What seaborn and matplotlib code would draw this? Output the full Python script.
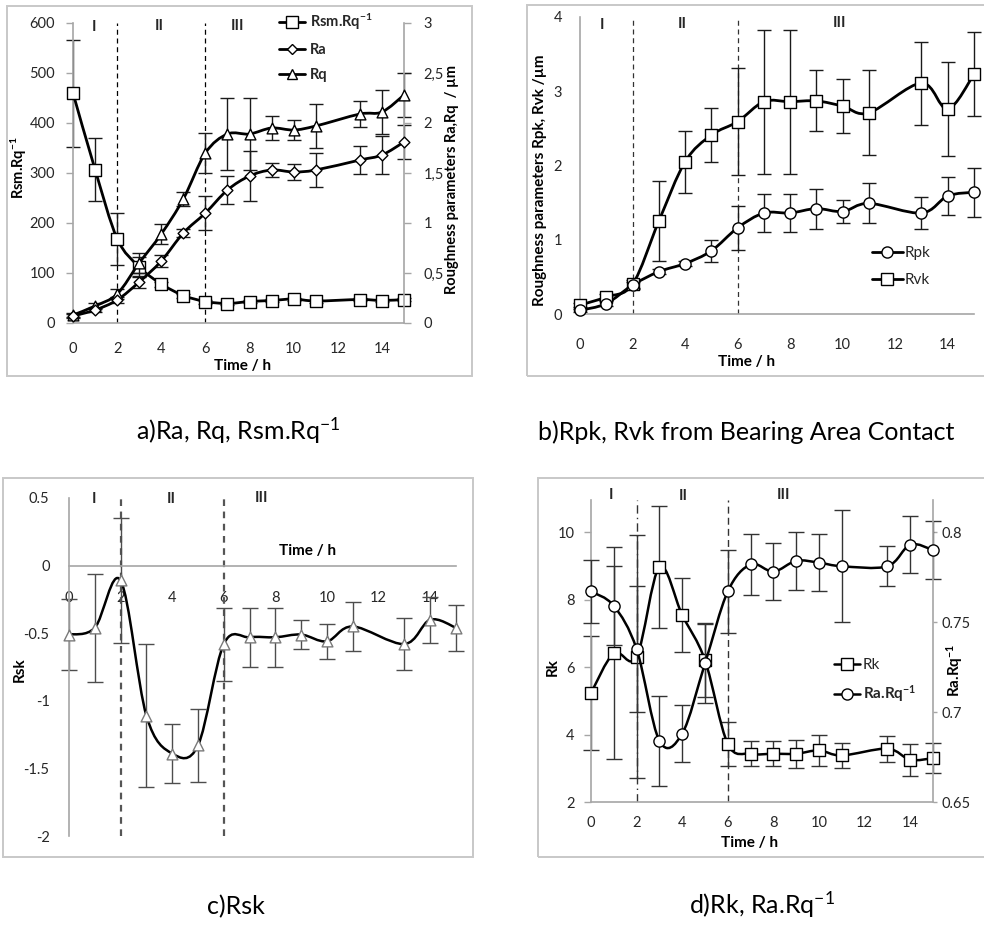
import numpy as np
import matplotlib
matplotlib.use("Agg")
import matplotlib.pyplot as plt
import seaborn as sns
from matplotlib.path import Path
from matplotlib.patches import PathPatch, Rectangle
from matplotlib.lines import Line2D
from matplotlib.ticker import FuncFormatter, FixedLocator

# ---------------- data ----------------
time_h = [0, 1, 2, 3, 4, 5, 6, 7, 8, 9, 10, 11, 13, 14, 15]

# a) Ra, Rq, Rsm.Rq^-1
rsm_rq = [460, 307, 169, 112, 78, 55, 43, 39, 43, 45, 48, 44, 47, 45, 47]
rsm_rq_err = [107, 63, 52, 20, 5, 4, 4, 3, 3, 3, 3, 3, 3, 3, 3]
ra = [0.07, 0.13, 0.23, 0.41, 0.62, 0.90, 1.10, 1.33, 1.47, 1.53, 1.51, 1.53, 1.63, 1.68, 1.81]
ra_err = [0.02, 0.02, 0.03, 0.06, 0.06, 0.04, 0.17, 0.14, 0.25, 0.07, 0.08, 0.17, 0.14, 0.19, 0.17]
rq = [0.08, 0.17, 0.29, 0.60, 0.89, 1.24, 1.70, 1.89, 1.89, 1.95, 1.93, 1.97, 2.09, 2.11, 2.28]
rq_err = [0.02, 0.03, 0.05, 0.10, 0.10, 0.07, 0.20, 0.36, 0.36, 0.12, 0.10, 0.22, 0.13, 0.22, 0.22]

# b) Rpk, Rvk
rpk = [0.05, 0.14, 0.39, 0.57, 0.68, 0.85, 1.16, 1.36, 1.36, 1.42, 1.38, 1.49, 1.36, 1.59, 1.64]
rpk_err = [0.02, 0.03, 0.04, 0.03, 0.04, 0.15, 0.30, 0.25, 0.25, 0.27, 0.16, 0.27, 0.22, 0.25, 0.33]
rvk = [0.12, 0.23, 0.40, 1.25, 2.05, 2.41, 2.59, 2.86, 2.86, 2.87, 2.80, 2.71, 3.11, 2.76, 3.23]
rvk_err = [0.03, 0.04, 0.06, 0.54, 0.42, 0.36, 0.72, 0.97, 0.97, 0.41, 0.36, 0.57, 0.56, 0.63, 0.57]

# c) Rsk
rsk = [-0.51, -0.46, -0.11, -1.11, -1.39, -1.33, -0.58, -0.53, -0.53, -0.51, -0.56, -0.45, -0.58, -0.40, -0.46]
rsk_err = [0.26, 0.40, 0.46, 0.53, 0.22, 0.27, 0.27, 0.22, 0.22, 0.11, 0.13, 0.18, 0.19, 0.17, 0.17]

# d) Rk, Ra.Rq^-1
rk = [5.23, 6.41, 6.30, 8.96, 7.54, 6.20, 3.72, 3.43, 3.43, 3.43, 3.53, 3.38, 3.58, 3.25, 3.30]
rk_err = [1.70, 3.15, 3.60, 1.80, 1.10, 1.10, 0.66, 0.37, 0.37, 0.41, 0.46, 0.37, 0.38, 0.47, 0.44]
ra_rq = [0.767, 0.759, 0.735, 0.684, 0.688, 0.727, 0.767, 0.782, 0.778, 0.784, 0.783, 0.781, 0.781, 0.793, 0.790]
ra_rq_err = [0.0175, 0.022, 0.035, 0.025, 0.016, 0.022, 0.023, 0.017, 0.016, 0.016, 0.016, 0.031, 0.011, 0.016, 0.016]

stage_bounds = [2, 6]
stage_labels = ["I", "II", "III"]
xticks_main = [0, 2, 4, 6, 8, 10, 12, 14]

# ---------------- style ----------------
sns.set_theme(style="white")
plt.rcParams["font.family"] = ["Lato", "DejaVu Sans"]
plt.rcParams["axes.unicode_minus"] = False
plt.rcParams["mathtext.fontset"] = "custom"
plt.rcParams["mathtext.rm"] = "Lato"
plt.rcParams["mathtext.bf"] = "Lato:bold"
plt.rcParams["mathtext.it"] = "Lato:italic"

W, H = 984, 926
fig = plt.figure(figsize=(W / 100, H / 100), dpi=100)
fig.patch.set_facecolor("white")

SPINE = "#a6a6a6"
TICKLBL = "#262626"
LBL = 10.5


def pax(l, t, r, b):
    return fig.add_axes([l / W, 1 - b / H, (r - l) / W, (b - t) / H])


def ftext(x, y, s, **kw):
    fig.text(x / W, 1 - y / H, s, **kw)


def box(l, t, r, b):
    fig.add_artist(Rectangle((l / W, 1 - b / H), (r - l) / W, (b - t) / H,
                             transform=fig.transFigure, fill=False,
                             ec="#c8c8c8", lw=1.4))


def style(ax, on, labelsize=LBL):
    for side in ["left", "right", "top", "bottom"]:
        ax.spines[side].set_visible(side in on)
        ax.spines[side].set_color(SPINE)
        ax.spines[side].set_linewidth(1.2)
    ax.tick_params(colors=SPINE, labelcolor=TICKLBL, length=5, width=1.0,
                   labelsize=labelsize, direction="out")
    ax.grid(False)
    ax.set_facecolor("none")


def bezier(xs, ys):
    pts = np.column_stack([xs, ys]).astype(float)
    n = len(pts)
    verts = [pts[0]]
    codes = [Path.MOVETO]
    for i in range(n - 1):
        p0 = pts[i - 1] if i > 0 else pts[i]
        p1, p2 = pts[i], pts[i + 1]
        p3 = pts[i + 2] if i + 2 < n else pts[i + 1]
        verts += [p1 + (p2 - p0) / 6.0, p2 - (p3 - p1) / 6.0, p2]
        codes += [Path.CURVE4] * 3
    return Path(verts, codes)


def series(ax, x, y, err, marker, s, lw=2.0, ecol="#1a1a1a", mec="black",
           capsize=5):
    ax.errorbar(x, y, yerr=err, fmt="none", ecolor=ecol, elinewidth=1.0,
                capsize=capsize, capthick=1.0, zorder=2, clip_on=False)
    ax.add_patch(PathPatch(bezier(x, y), fill=False, lw=lw, ec="black",
                           zorder=3, joinstyle="round", capstyle="round"))
    sns.scatterplot(x=x, y=y, ax=ax, marker=marker, s=s, color="white",
                    edgecolor=mec, linewidth=1.0, zorder=4, clip_on=False,
                    legend=False)


def stage_lines(ax, ls, color="black", lw=1.0):
    for i, xb in enumerate(stage_bounds):
        ax.axvline(xb, color=color, lw=lw, ls=ls[i], zorder=1)


def handle(marker, ms, lw=2.0):
    return Line2D([0], [0], color="black", lw=lw, marker=marker, ms=ms,
                  mfc="white", mec="black", mew=1.0)


# ---------------- panel boxes ----------------
box(7, 6, 472, 376)
box(527, 5, 990, 376)
box(3, 478, 473, 857)
box(538, 478, 990, 857)

# ================= panel a =================
axa = pax(73, 23, 404, 323)
axa2 = axa.twinx()
style(axa, ["left", "bottom"])
style(axa2, ["right"])
series(axa, time_h, rsm_rq, rsm_rq_err, "s", 75)
series(axa2, time_h, rq, rq_err, "^", 60)
series(axa2, time_h, ra, ra_err, "D", 30)
stage_lines(axa, [(0, (4, 3)), (0, (4, 3))], lw=0.9)
axa.set_xlim(0, 15)
axa.set_ylim(0, 600)
axa2.set_ylim(0, 3)
axa.xaxis.set_major_locator(FixedLocator(xticks_main))
axa.set_yticks([0, 100, 200, 300, 400, 500, 600])
axa2.set_yticks([0, 0.5, 1, 1.5, 2, 2.5, 3])
axa2.yaxis.set_major_formatter(FuncFormatter(lambda v, p: ("%g" % v).replace(".", ",")))
axa.tick_params(axis="x", pad=9)
axa.tick_params(axis="y", pad=8)
axa2.tick_params(axis="y", pad=9)
for a in (axa, axa2):
    a.set_xlabel("")
    a.set_ylabel("")
axa2.legend([handle("s", 8.5), handle("D", 5.5), handle("^", 7.5)],
            ["Rsm.Rq$^{\\mathbf{-1}}$", "Ra", "Rq"],
            loc="upper left", bbox_to_anchor=(279 / W, 1 - 12 / H),
            bbox_transform=fig.transFigure, frameon=False, borderpad=0,
            borderaxespad=0, handlelength=1.8, handletextpad=0.3,
            labelspacing=0.75, prop={"weight": "bold", "size": 10.5})
ftext(19, 168, "Rsm.Rq$^{\\mathbf{-1}}$", rotation=90, ha="center", va="center",
      fontsize=10.5, fontweight="bold", color="black")
ftext(452, 180, "Roughness parameters Ra,Rq  / µm", rotation=90, ha="center",
      va="center", fontsize=10.5, fontweight="bold", color="black")
ftext(243, 366, "Time / h", ha="center", va="center", fontsize=11,
      fontweight="bold", color="black")
for (px, py), s in zip([(94, 27), (159, 26), (237, 26)], stage_labels):
    ftext(px, py, s, ha="center", va="center", fontsize=11, fontweight="bold")

# ================= panel b =================
axb = pax(580, 17, 974, 314)
style(axb, ["left", "bottom"])
series(axb, time_h, rvk, rvk_err, "s", 80)
series(axb, time_h, rpk, rpk_err, "o", 65)
stage_lines(axb, [(0, (4, 3)), (0, (4, 3))], color="#333333", lw=0.9)
axb.set_xlim(0, 15)
axb.set_ylim(0, 4)
axb.xaxis.set_major_locator(FixedLocator(xticks_main))
axb.set_yticks([0, 1, 2, 3, 4])
axb.tick_params(axis="x", pad=12)
axb.tick_params(axis="y", pad=8)
axb.set_xlabel("")
axb.set_ylabel("")
axb.legend([handle("o", 8), handle("s", 8.5)], ["Rpk", "Rvk"],
           loc="upper left", bbox_to_anchor=(872 / W, 1 - 246 / H),
           bbox_transform=fig.transFigure, frameon=False, borderpad=0,
           borderaxespad=0, handlelength=2.0, handletextpad=0.15,
           labelspacing=0.85, prop={"size": 11})
ftext(540, 180, "Roughness parameters Rpk, Rvk /µm", rotation=90, ha="center",
      va="center", fontsize=11, fontweight="bold", color="black")
ftext(747, 362, "Time / h", ha="center", va="center", fontsize=11,
      fontweight="bold", color="black")
for (px, py), s in zip([(602, 25), (682, 24), (839, 23)], stage_labels):
    ftext(px, py, s, ha="center", va="center", fontsize=11, fontweight="bold")

# ================= panel c =================
axc = pax(69, 498, 456, 836)
style(axc, ["left", "bottom"])
axc.spines["bottom"].set_position(("data", 0))
series(axc, time_h, rsk, rsk_err, "^", 60, lw=1.8, ecol="#4d4d4d",
       mec="#7a7a7a", capsize=6)
stage_lines(axc, [(0, (3, 2.5)), (0, (3, 2.5))], color="#555555", lw=1.6)
axc.set_xlim(0, 15)
axc.set_ylim(-2, 0.5)
axc.xaxis.set_major_locator(FixedLocator(xticks_main))
axc.set_yticks([0.5, 0, -0.5, -1, -1.5, -2])
axc.yaxis.set_major_formatter(FuncFormatter(lambda v, p: "%g" % v))
axc.tick_params(axis="x", pad=14, length=4)
axc.tick_params(axis="y", pad=9)
axc.set_xlabel("")
axc.set_ylabel("")
ftext(20, 670, "Rsk", rotation=90, ha="center", va="center", fontsize=11,
      fontweight="bold", color="black")
ftext(308, 551, "Time / h", ha="center", va="center", fontsize=11,
      fontweight="bold", color="black")
for (px, py), s in zip([(94, 499), (171, 499), (261, 498)], stage_labels):
    ftext(px, py, s, ha="center", va="center", fontsize=11, fontweight="bold")

# ================= panel d =================
axd = pax(591, 500, 933, 802)
axd2 = axd.twinx()
style(axd, ["left", "bottom"])
style(axd2, ["right"])
series(axd, time_h, rk, rk_err, "s", 70, lw=1.8, ecol="#333333", capsize=6)
series(axd2, time_h, ra_rq, ra_rq_err, "o", 65, lw=1.8, ecol="#333333",
       capsize=6)
stage_lines(axd, [(0, (6, 3, 1, 3)), (0, (5, 3))], color="#333333", lw=1.0)
axd.set_xlim(0, 15)
axd.set_ylim(2, 10.95)
axd2.set_ylim(0.65, 0.8178)
axd.xaxis.set_major_locator(FixedLocator(xticks_main))
axd.set_yticks([2, 4, 6, 8, 10])
axd2.set_yticks([0.65, 0.7, 0.75, 0.8])
axd2.yaxis.set_major_formatter(FuncFormatter(lambda v, p: "%g" % v))
axd.tick_params(axis="x", pad=5)
axd.tick_params(axis="y", pad=7)
axd2.tick_params(axis="y", pad=3, length=3)
for a in (axd, axd2):
    a.set_xlabel("")
    a.set_ylabel("")
axd2.legend([handle("s", 8, lw=1.8), handle("o", 8, lw=1.8)],
            ["Rk", "Ra.Rq$^{\\mathbf{-1}}$"],
            loc="upper left", bbox_to_anchor=(834 / W, 1 - 658 / H),
            bbox_transform=fig.transFigure, frameon=False, borderpad=0,
            borderaxespad=0, handlelength=1.7, handletextpad=0.2,
            labelspacing=0.75, prop={"size": 11})
leg_d = axd2.get_legend()
leg_d.get_texts()[1].set_fontweight("bold")
ftext(553, 667, "Rk", rotation=90, ha="center", va="center", fontsize=11,
      fontweight="bold", color="black")
ftext(955, 670, "Ra.Rq$^{\\mathbf{-1}}$", rotation=90, ha="center",
      va="center", fontsize=11, fontweight="bold", color="black")
ftext(750, 843, "Time / h", ha="center", va="center", fontsize=11,
      fontweight="bold", color="black")
for (px, py), s in zip([(611, 495), (683, 496), (783, 495)], stage_labels):
    ftext(px, py, s, ha="center", va="center", fontsize=11, fontweight="bold")

# ---------------- captions ----------------
CAP = 18
ftext(238, 440, "a)Ra, Rq, Rsm.Rq$^{-1}$", ha="center", va="baseline",
      fontsize=CAP, color="black")
ftext(538, 440, "b)Rpk, Rvk from Bearing Area Contact", ha="left",
      va="baseline", fontsize=CAP, color="black")
ftext(236, 914, "c)Rsk", ha="center", va="baseline", fontsize=CAP,
      color="black")
ftext(762, 914, "d)Rk, Ra.Rq$^{-1}$", ha="center", va="baseline",
      fontsize=CAP, color="black")

fig.savefig("out.png", dpi=100, facecolor="white")
